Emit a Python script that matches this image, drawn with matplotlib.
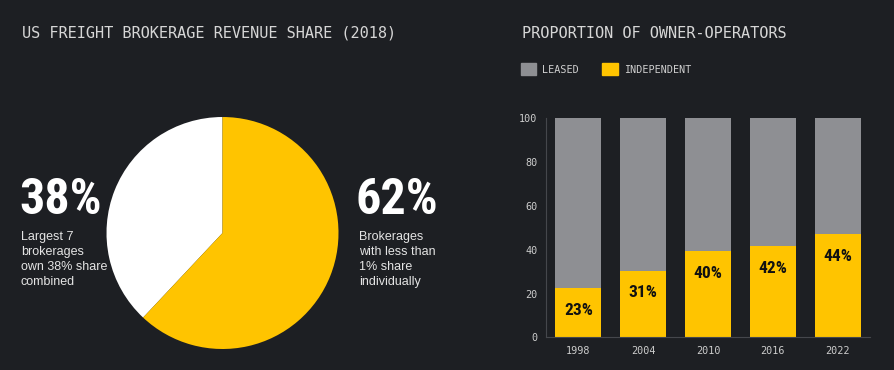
import matplotlib
matplotlib.use('Agg')
import matplotlib.pyplot as plt
from matplotlib import font_manager as fm
from matplotlib.patches import Patch

# Data
pie_labels = ['Largest 7 brokerages', 'Brokerages < 1% share']
pie_values = [38, 62]

years = ['1998', '2004', '2010', '2016', '2022']
independent = [22.5, 30.5, 39.5, 41.5, 47.0]
bar_labels = ['23%', '31%', '40%', '42%', '44%']

BG = '#1d1f23'
YELLOW = '#ffc400'
GRAY = '#8e8f93'
TXT = '#d6d6d6'

W, H = 895, 370

# pick a condensed family if there is one
names = {f.name for f in fm.fontManager.ttflist}
cond = 'DejaVu Sans'
for n in ['Liberation Sans Narrow', 'DejaVu Sans Condensed', 'Roboto Condensed', 'Open Sans Condensed']:
    if n in names:
        cond = n
        break


def fx(x):
    return x / W


def fy(y):
    return 1 - y / H


fig = plt.figure(figsize=(W / 100, H / 100), dpi=100)
fig.patch.set_facecolor(BG)

# titles
fig.text(fx(22), fy(33), 'US FREIGHT BROKERAGE REVENUE SHARE (2018)', family='DejaVu Sans Mono',
         fontsize=11, color=TXT, va='center', ha='left')
fig.text(fx(522), fy(33), 'PROPORTION OF OWNER-OPERATORS', family='DejaVu Sans Mono',
         fontsize=11, color=TXT, va='center', ha='left')

# pie
r = 116
ax1 = fig.add_axes([fx(222.5 - r), fy(233 + r), 2 * r / W, 2 * r / H])
ax1.pie(pie_values, colors=['#ffffff', YELLOW], startangle=90, counterclock=True,
        wedgeprops=dict(linewidth=0))
ax1.set_xlim(-1, 1)
ax1.set_ylim(-1, 1)
ax1.axis('off')

# callouts
fig.text(fx(19), fy(200), '%d%%' % pie_values[0], family=[cond, 'DejaVu Sans'], weight='bold',
         fontsize=36, color='white', va='center', ha='left')
fig.text(fx(21), fy(231), 'Largest 7\nbrokerages\nown 38% share\ncombined', family='Liberation Sans',
         fontsize=9, color='#e4e4e4', va='top', ha='left', linespacing=1.32)
fig.text(fx(356), fy(200), '%d%%' % pie_values[1], family=[cond, 'DejaVu Sans'], weight='bold',
         fontsize=36, color='white', va='center', ha='left')
fig.text(fx(359), fy(231), 'Brokerages\nwith less than\n1% share\nindividually', family='Liberation Sans',
         fontsize=9, color='#e4e4e4', va='top', ha='left', linespacing=1.32)

# stacked bars
ax2 = fig.add_axes([fx(546), fy(337.3), 324 / W, 219 / H])
ax2.set_facecolor(BG)
x = range(len(years))
leased = [100 - v for v in independent]
ax2.bar(x, independent, width=0.71, color=YELLOW, linewidth=0)
ax2.bar(x, leased, bottom=independent, width=0.71, color=GRAY, linewidth=0)
for i, (v, lab) in enumerate(zip(independent, bar_labels)):
    ax2.annotate(lab, (i, v), xytext=(0, -16), textcoords='offset points', ha='center', va='center',
                 family=[cond, 'DejaVu Sans'], weight='bold', fontsize=12.5, color='#111111')

ax2.set_xlim(-0.5, len(years) - 0.5)
ax2.set_ylim(0, 100)
ax2.set_xticks(list(x))
ax2.set_xticklabels(years)
ax2.set_yticks([0, 20, 40, 60, 80, 100])
for lab in ax2.get_xticklabels() + ax2.get_yticklabels():
    lab.set_family('DejaVu Sans Mono')
    lab.set_fontsize(7.3)
    lab.set_color('#cccccc')
ax2.tick_params(axis='x', length=0, pad=6)
ax2.tick_params(axis='y', length=0, pad=6)
for s in ['top', 'right']:
    ax2.spines[s].set_visible(False)
for s in ['left', 'bottom']:
    ax2.spines[s].set_color('#45474c')
    ax2.spines[s].set_linewidth(0.8)

handles = [Patch(color=GRAY, label='LEASED'), Patch(color=YELLOW, label='INDEPENDENT')]
leg = fig.legend(handles=handles, loc='upper left', bbox_to_anchor=(fx(521), fy(63)), ncol=2,
                 frameon=False, borderpad=0, borderaxespad=0, handlelength=1.5, handleheight=1.5,
                 handletextpad=0.6, columnspacing=2.3, prop={'family': 'DejaVu Sans Mono', 'size': 7.3})
for t in leg.get_texts():
    t.set_color('#d0d0d0')

fig.savefig('out.png', dpi=100, facecolor=BG)
